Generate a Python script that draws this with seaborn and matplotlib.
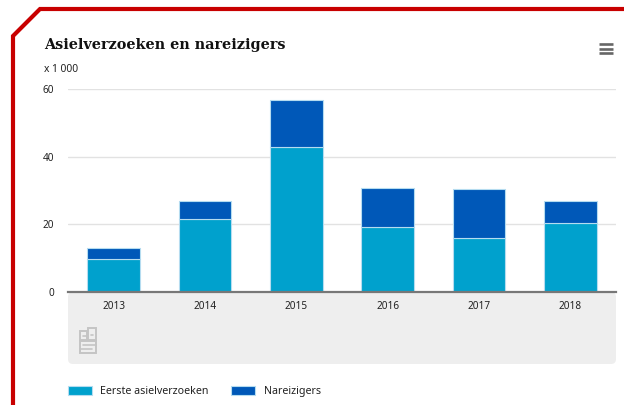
import matplotlib
matplotlib.use('Agg')
import matplotlib.pyplot as plt
from matplotlib.patches import FancyBboxPatch, Rectangle
import seaborn as sns
import pandas as pd

# Values (x 1 000)
years = ['2013', '2014', '2015', '2016', '2017', '2018']
eerste = [9.7, 21.5, 43.0, 19.1, 15.9, 20.4]
nareizigers = [3.4, 5.3, 13.8, 11.7, 14.4, 6.4]
y_ticks = [0, 20, 40, 60]

W, H = 624, 405
RED = '#c80000'
BLUE_LIGHT = '#00a1cd'
BLUE_DARK = '#0058b8'
EDGE = '#b5dcf0'
TEXT = '#222222'
LOGO = '#c4c4c4'

sns.set_theme(style='white')
plt.rcParams['font.family'] = ['Noto Sans', 'DejaVu Sans']

df = pd.DataFrame({'year': years, 'eerste': eerste, 'nareizigers': nareizigers})

fig = plt.figure(figsize=(W / 100, H / 100), dpi=100, facecolor='white')

# Background layer in pixel coordinates: border, panel, icons
bg = fig.add_axes([0, 0, 1, 1], zorder=0)
bg.set_xlim(0, W)
bg.set_ylim(H, 0)
bg.axis('off')

bg.plot([13, 13, 40, W], [H, 36, 9, 9], color=RED, lw=3, solid_joinstyle='miter')

bg.add_patch(FancyBboxPatch((68, 292), 548, 72, boxstyle='round,pad=0,rounding_size=5',
                            fc='#eeeeee', ec='none'))

# Menu icon
for y in [43.5, 48.5, 53]:
    bg.plot([599, 613], [y, y], color='#666666', lw=1.9, solid_capstyle='butt')

# cbs logo
for x, y, w, h in [(79.5, 331, 7.5, 9), (88, 327.5, 7.5, 12.5), (79.5, 341, 16, 12)]:
    bg.add_patch(Rectangle((x, y), w, h, fc='none', ec=LOGO, lw=1.4))
bg.plot([83, 87], [335.5, 335.5], color=LOGO, lw=1.2)
bg.plot([91, 93], [335, 335], color=LOGO, lw=1.2)
bg.plot([83, 95.5], [345, 345], color=LOGO, lw=1.2)
bg.plot([79.5, 92], [349, 349], color=LOGO, lw=1.2)

bg.text(44, 45.5, 'Asielverzoeken en nareizigers', family='DejaVu Serif', weight='bold',
        fontsize=10.35, color='#111111', va='center', ha='left')
bg.text(44, 69, 'x 1 000', fontsize=7.4, color=TEXT, va='center', ha='left')

# Chart
ax = fig.add_axes([68 / W, 1 - 292 / H, 548 / W, 203 / H], zorder=1)
ax.patch.set_alpha(0)

sns.barplot(data=df, x='year', y='eerste', color=BLUE_LIGHT, width=0.58, saturation=1,
            edgecolor=EDGE, linewidth=0.8, label='Eerste asielverzoeken', ax=ax, zorder=3)
sns.barplot(data=df, x='year', y='nareizigers', bottom=df['eerste'], color=BLUE_DARK, width=0.58,
            saturation=1, edgecolor=EDGE, linewidth=0.8, label='Nareizigers', ax=ax, zorder=3)

ax.set_xlim(-0.5, 5.5)
ax.set_ylim(0, 60)
ax.set_yticks(y_ticks)
ax.set_xlabel('')
ax.set_ylabel('')
ax.grid(axis='y', color='#e2e2e2', lw=1)
ax.set_axisbelow(True)
ax.tick_params(axis='y', length=0, pad=10, labelsize=7.2, labelcolor=TEXT)
ax.tick_params(axis='x', length=0, pad=6.2, labelsize=7.2, labelcolor=TEXT)
sns.despine(ax=ax, left=True, top=True, right=True)
ax.spines['bottom'].set_color('#777777')
ax.spines['bottom'].set_linewidth(1.6)
ax.spines['bottom'].set_zorder(5)

handles, labels = ax.get_legend_handles_labels()
ax.legend(handles, labels, loc='lower left', bbox_to_anchor=(68 / W, 1 - 397 / H),
          bbox_transform=fig.transFigure, ncol=2, frameon=False, fontsize=7.7,
          handlelength=2.2, handleheight=0.9, handletextpad=0.82, columnspacing=2.12,
          borderpad=0, borderaxespad=0, labelcolor=TEXT)

fig.savefig('out.png', dpi=100)
